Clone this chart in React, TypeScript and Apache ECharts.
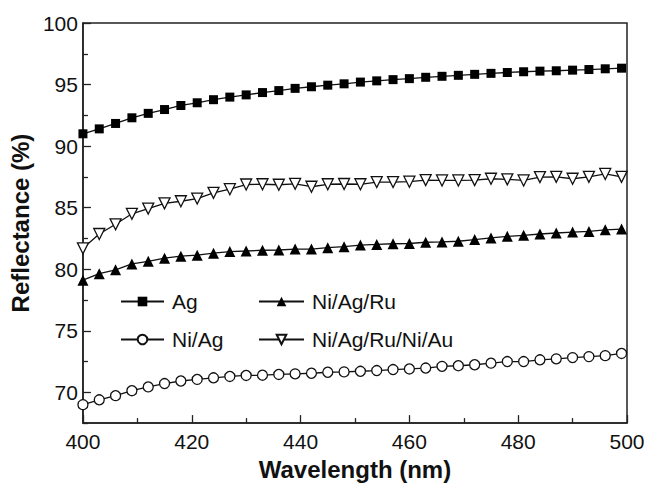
import React, { useEffect, useRef } from "react";
import * as echarts from "echarts";

const wavelength = [400, 403, 406, 409, 412, 415, 418, 421, 424, 427, 430, 433, 436, 439, 442, 445, 448, 451, 454, 457, 460, 463, 466, 469, 472, 475, 478, 481, 484, 487, 490, 493, 496, 499];

const agValues = [91.0, 91.4, 91.84, 92.3, 92.66, 92.97, 93.3, 93.52, 93.77, 93.98, 94.16, 94.35, 94.51, 94.69, 94.82, 94.95, 95.06, 95.2, 95.3, 95.4, 95.48, 95.59, 95.67, 95.75, 95.83, 95.91, 95.98, 96.04, 96.09, 96.12, 96.17, 96.22, 96.28, 96.33];

const niAgValues = [69.0, 69.39, 69.73, 70.13, 70.44, 70.71, 70.92, 71.05, 71.18, 71.29, 71.37, 71.39, 71.45, 71.5, 71.55, 71.63, 71.66, 71.71, 71.77, 71.85, 71.9, 71.97, 72.11, 72.16, 72.24, 72.37, 72.5, 72.5, 72.64, 72.72, 72.82, 72.9, 72.98, 73.16];

const niAgRuValues = [79.11, 79.64, 79.95, 80.43, 80.64, 80.9, 81.06, 81.14, 81.3, 81.43, 81.48, 81.54, 81.56, 81.64, 81.64, 81.75, 81.83, 81.96, 82.01, 82.07, 82.09, 82.19, 82.22, 82.27, 82.41, 82.54, 82.67, 82.75, 82.86, 82.94, 83.02, 83.07, 83.2, 83.26];

const niAgRuNiAuValues = [81.7, 82.86, 83.65, 84.5, 84.92, 85.35, 85.52, 85.74, 86.2, 86.5, 86.88, 86.9, 86.86, 86.94, 86.7, 86.9, 86.92, 86.9, 87.08, 87.08, 87.11, 87.24, 87.21, 87.21, 87.24, 87.35, 87.3, 87.21, 87.48, 87.5, 87.35, 87.5, 87.74, 87.5];

const yMajorTicks = [70, 75, 80, 85, 90, 95, 100];
const yMinorTicks = [67.5, 72.5, 77.5, 82.5, 87.5, 92.5, 97.5];

const FONT = "'Liberation Sans', Arial, sans-serif";
const AXIS_COLOR = "#222";

function pairs(values: number[]) {
  return wavelength.map((w, i) => [w, values[i]]);
}

export default function App() {
  const ref = useRef<HTMLDivElement>(null);

  useEffect(() => {
    if (!ref.current) return;
    const chart = echarts.init(ref.current, undefined, { renderer: "svg" });
    const lineStyle = { color: "#111", width: 1.3 };
    const legendText = { fontFamily: FONT, fontSize: 21, color: "#111", padding: [0, 0, 0, 3] };
    chart.setOption({
      animation: false,
      backgroundColor: "#fff",
      grid: {
        left: 75,
        right: 21,
        top: 23,
        bottom: 53,
        show: true,
        borderColor: AXIS_COLOR,
        borderWidth: 1.5,
        backgroundColor: "transparent",
      },
      legend: [
        {
          data: ["Ag", "Ni/Ag"],
          orient: "vertical",
          left: 120,
          top: 291,
          padding: 0,
          itemWidth: 43,
          itemHeight: 12,
          itemGap: 17,
          textStyle: legendText,
        },
        {
          data: ["Ni/Ag/Ru", "Ni/Ag/Ru/Ni/Au"],
          orient: "vertical",
          left: 258,
          top: 291,
          padding: 0,
          itemWidth: 45,
          itemHeight: 12,
          itemGap: 17,
          textStyle: legendText,
        },
      ],
      xAxis: {
        type: "value",
        min: 400,
        max: 500,
        interval: 20,
        name: "Wavelength (nm)",
        nameLocation: "middle",
        nameGap: 22,
        nameTextStyle: { fontFamily: FONT, fontSize: 24, fontWeight: "bold", color: "#111" },
        axisLine: { show: true, lineStyle: { color: AXIS_COLOR, width: 1.5 } },
        axisTick: { show: true, inside: true, length: 8, lineStyle: { color: AXIS_COLOR, width: 1.3 } },
        minorTick: { show: true, splitNumber: 2, length: 5, lineStyle: { color: AXIS_COLOR, width: 1.3 } },
        axisLabel: { fontFamily: FONT, fontSize: 21, color: "#111", margin: 8 },
        splitLine: { show: false },
      },
      yAxis: [
        {
          type: "value",
          min: 67.5,
          max: 100,
          name: "Reflectance (%)",
          nameLocation: "middle",
          nameGap: 40,
          nameTextStyle: { fontFamily: FONT, fontSize: 24, fontWeight: "bold", color: "#111" },
          axisLine: { show: true, lineStyle: { color: AXIS_COLOR, width: 1.5 } },
          axisTick: { show: true, inside: true, length: 8, customValues: yMajorTicks, lineStyle: { color: AXIS_COLOR, width: 1.3 } },
          axisLabel: { fontFamily: FONT, fontSize: 21, color: "#111", margin: 5, customValues: yMajorTicks },
          splitLine: { show: false },
        },
        {
          type: "value",
          min: 67.5,
          max: 100,
          position: "left",
          axisLine: { show: false },
          axisTick: { show: true, inside: true, length: 5, customValues: yMinorTicks, lineStyle: { color: AXIS_COLOR, width: 1.3 } },
          axisLabel: { show: false },
          splitLine: { show: false },
        },
      ],
      series: [
        {
          name: "Ag",
          type: "line",
          data: pairs(agValues),
          symbol: "rect",
          symbolSize: 9,
          lineStyle,
          itemStyle: { color: "#000", borderColor: "#000", borderWidth: 0 },
        },
        {
          name: "Ni/Ag/Ru",
          type: "line",
          data: pairs(niAgRuValues),
          symbol: "triangle",
          symbolSize: 11,
          lineStyle,
          itemStyle: { color: "#000", borderColor: "#000", borderWidth: 0 },
        },
        {
          name: "Ni/Ag",
          type: "line",
          data: pairs(niAgValues),
          symbol: "circle",
          symbolSize: 10,
          lineStyle,
          itemStyle: { color: "#fff", borderColor: "#111", borderWidth: 1.3 },
        },
        {
          name: "Ni/Ag/Ru/Ni/Au",
          type: "line",
          data: pairs(niAgRuNiAuValues),
          symbol: "triangle",
          symbolRotate: 180,
          symbolSize: 11,
          lineStyle,
          itemStyle: { color: "#fff", borderColor: "#111", borderWidth: 1.3 },
        },
      ],
    });
    return () => chart.dispose();
  }, []);

  return (
    <div
      ref={ref}
      style={{ position: "fixed", left: 0, top: 0, width: 648, height: 486, background: "#fff" }}
    />
  );
}
